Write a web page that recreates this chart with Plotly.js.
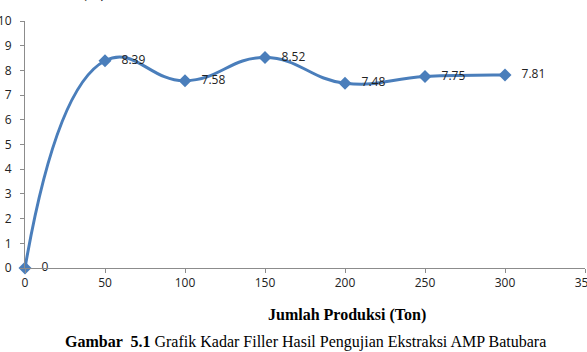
<!DOCTYPE html>
<html>
<head>
<meta charset="utf-8">
<script src="https://cdn.plot.ly/plotly-3.0.1.min.js"></script>
<style>html,body{margin:0;padding:0;background:#fff;}#chart{width:587px;height:352px;}</style>
</head>
<body>
<div id="chart"></div>
<script>
const produksi = [0, 50, 100, 150, 200, 250, 300];
const kadar = [0, 8.39, 7.58, 8.52, 7.48, 7.75, 7.81];
const labels = ['0', '8.39', '7.58', '8.52', '7.48', '7.75', '7.81'];
const xTicks = [0, 50, 100, 150, 200, 250, 300, 350];
const yTicks = [0, 1, 2, 3, 4, 5, 6, 7, 8, 9, 10];

const trace = {
  x: produksi, y: kadar, type: 'scatter', mode: 'lines+markers+text',
  line: {color: '#4a7ebb', width: 3, shape: 'spline', smoothing: 1.3},
  marker: {symbol: 'diamond', size: 10, color: '#4a7ebb'},
  text: labels.map(t => '   ' + t),
  textposition: 'middle right',
  textfont: {family: 'Open Sans, Liberation Sans, sans-serif', size: 12, color: '#222'},
  cliponaxis: false, hoverinfo: 'none'
};

const axisCommon = {
  showgrid: false, zeroline: false, showline: true, linecolor: '#8c8c8c', linewidth: 1,
  ticks: 'outside', ticklen: 4, tickcolor: '#8c8c8c',
  tickfont: {family: 'Open Sans, Liberation Sans, sans-serif', size: 12, color: '#222'},
  ticklabeloverflow: 'allow'
};

const serif = 'Liberation Serif, Times New Roman, serif';
const layout = {
  width: 587, height: 352,
  margin: {l: 25, r: 2, t: 21, b: 84},
  paper_bgcolor: '#fff', plot_bgcolor: '#fff', showlegend: false,
  xaxis: Object.assign({}, axisCommon, {range: [0, 350], tickvals: xTicks, ticktext: xTicks.map(String)}),
  yaxis: Object.assign({}, axisCommon, {range: [0, 10], tickvals: yTicks, ticktext: yTicks.map(String), ticklabelstandoff: 6}),
  annotations: [
    {xref: 'paper', yref: 'paper', x: 0.5, y: 0, yshift: -36, xshift: 42, xanchor: 'center', yanchor: 'top', showarrow: false,
     text: '<b>Jumlah Produksi (Ton)</b>', font: {family: serif, size: 16, color: '#000'}},
    {xref: 'paper', yref: 'paper', x: 0.5, y: 0, yshift: -63, xanchor: 'center', yanchor: 'top', showarrow: false,
     text: '<b>Gambar  5.1</b> Grafik Kadar Filler Hasil Pengujian Ekstraksi AMP Batubara',
     font: {family: serif, size: 16, color: '#000'}},
    {xref: 'paper', yref: 'paper', x: 0, y: 1, xshift: 55, yshift: 17, xanchor: 'left', yanchor: 'bottom', showarrow: false,
     text: '<b>(%)</b>', font: {family: serif, size: 14, color: '#000'}}
  ]
};

Plotly.newPlot('chart', [trace], layout, {staticPlot: true, displayModeBar: false});
</script>
</body>
</html>
